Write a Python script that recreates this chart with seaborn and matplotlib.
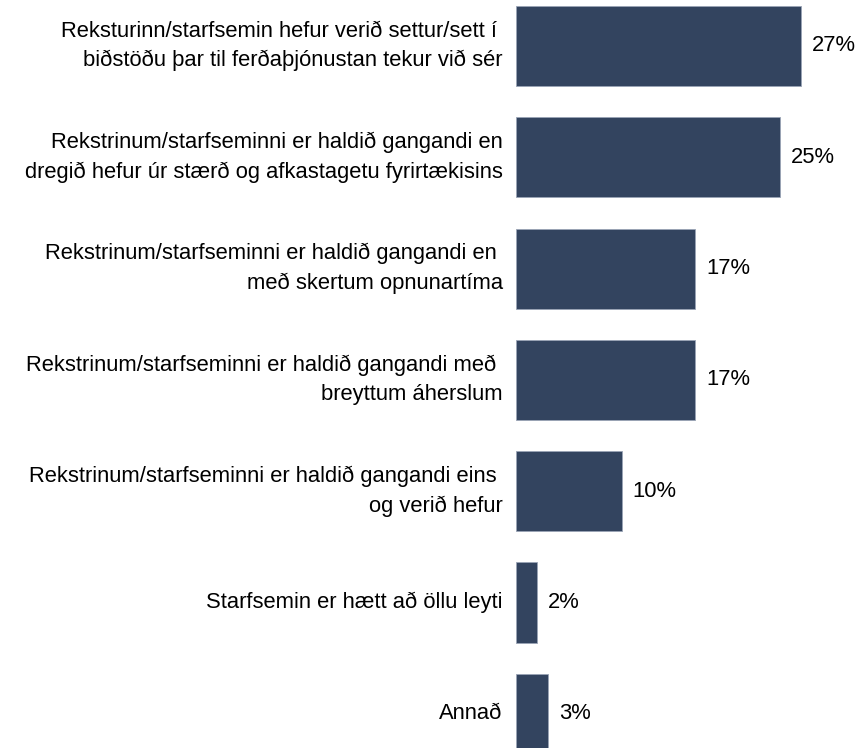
import matplotlib
matplotlib.use("Agg")
import matplotlib.pyplot as plt
import seaborn as sns
import pandas as pd

categories = [
    "Reksturinn/starfsemin hefur verið settur/sett í \nbiðstöðu þar til ferðaþjónustan tekur við sér",
    "Rekstrinum/starfseminni er haldið gangandi en\ndregið hefur úr stærð og afkastagetu fyrirtækisins",
    "Rekstrinum/starfseminni er haldið gangandi en \nmeð skertum opnunartíma",
    "Rekstrinum/starfseminni er haldið gangandi með \nbreyttum áherslum",
    "Rekstrinum/starfseminni er haldið gangandi eins \nog verið hefur",
    "Starfsemin er hætt að öllu leyti",
    "Annað",
]
values = [27, 25, 17, 17, 10, 2, 3]

df = pd.DataFrame({"category": categories, "value": values})

sns.set_theme(style="white")
plt.rcParams["font.family"] = ["Liberation Sans", "DejaVu Sans"]

FS = 15.8

fig = plt.figure(figsize=(8.64, 7.48), dpi=100)
ax = fig.add_axes([516 / 864, 0, 348 / 864, 1])

sns.barplot(data=df, x="value", y="category", orient="h", color="#33445f",
            saturation=1, width=0.72, edgecolor="#9aa4b6", linewidth=0.6, ax=ax)

ax.set_xlim(0, 348 / 10.55)
ax.set_ylim(6.307, -0.413)
ax.set_xlabel("")
ax.set_ylabel("")
ax.set_xticks([])
for s in ax.spines.values():
    s.set_visible(False)

ax.tick_params(axis="y", length=0, pad=9.5, labelsize=FS)
for lab in ax.get_yticklabels():
    lab.set_linespacing(1.52)
    lab.set_va("center")
    lab.set_color("#000000")

ax.bar_label(ax.containers[0], labels=[f"{v}%" for v in values],
             padding=8, fontsize=FS, color="#000000")

fig.savefig("out.png", dpi=100)
